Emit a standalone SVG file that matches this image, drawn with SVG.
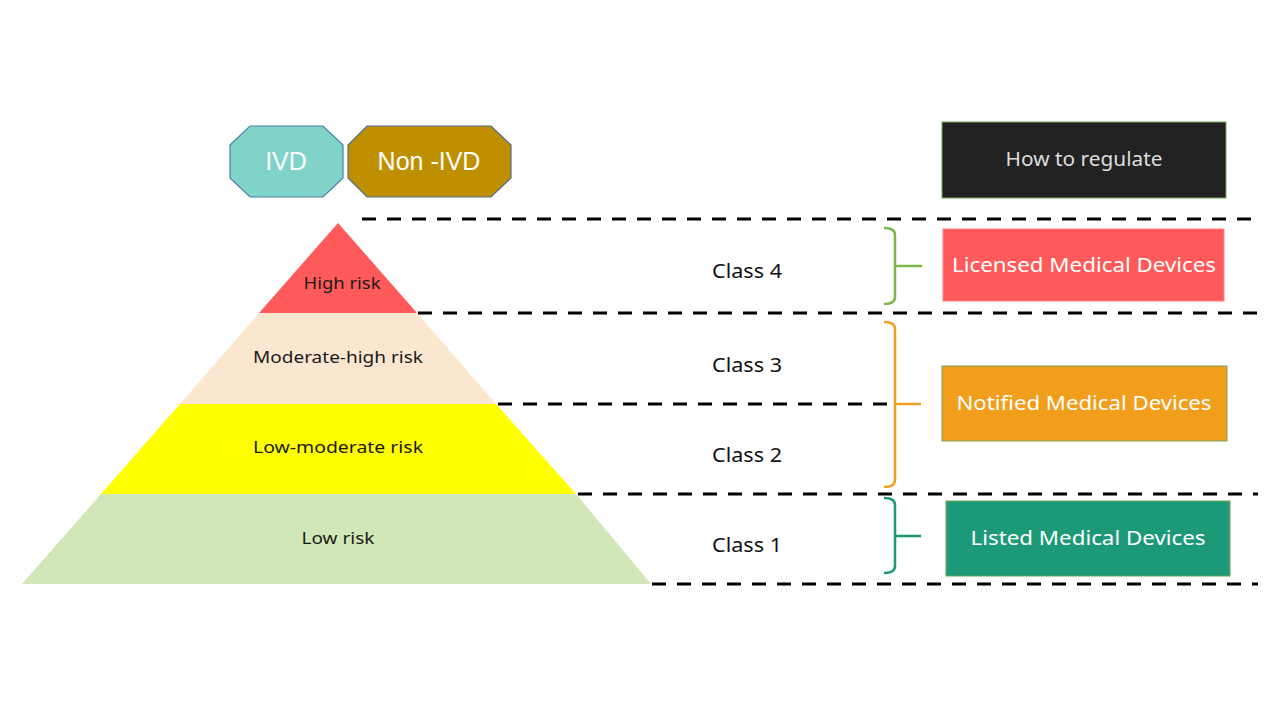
<svg xmlns="http://www.w3.org/2000/svg" width="1280" height="720" viewBox="0 0 1280 720">
<style>
.lbl{font-family:"Noto Sans","Open Sans","DejaVu Sans",sans-serif;font-size:17px;fill:#1a1a1a;text-anchor:middle;dominant-baseline:central}
.cls{font-family:"Noto Sans","Open Sans","DejaVu Sans",sans-serif;font-size:19px;fill:#111;text-anchor:middle;dominant-baseline:central}
.box{font-family:"Noto Sans","Open Sans","DejaVu Sans",sans-serif;font-size:20px;fill:#fff;text-anchor:middle;dominant-baseline:central}
.oct{font-family:"Liberation Sans",Arial,sans-serif;font-size:25px;fill:#fff;text-anchor:middle;dominant-baseline:central}
.dash{stroke:#000;stroke-width:3;stroke-dasharray:14 11;fill:none}
.br{fill:none;stroke-width:2.5;stroke-linejoin:round}
</style>
<rect width="1280" height="720" fill="#fff"/>
<g id="ivd">
<polygon points="250,126 323,126 343,145 343,178 323,197 250,197 230,178 230,145" fill="#7fd3c8" stroke="#4d7fa6" stroke-width="1.2"/>
<text class="oct" x="286" y="161">IVD</text>
</g>
<g id="non-ivd">
<polygon points="367,126 491,126 511,145 511,178 491,197 367,197 348,178 348,145" fill="#bf8f00" stroke="#4d6f94" stroke-width="1.2"/>
<text class="oct" x="429" y="161">Non -IVD</text>
</g>
<g id="how-to-regulate">
<rect x="942" y="122" width="284" height="76" fill="#222" stroke="#6aa84f" stroke-width="1"/>
<text class="box" x="1084" y="159" style="fill:#ddd;font-size:19px" textLength="157" lengthAdjust="spacingAndGlyphs">How to regulate</text>
</g>
<g id="high-risk">
<polygon points="338,223 417,313 259,313" fill="#ff5a5a"/>
<text class="lbl" x="342" y="282" textLength="77" lengthAdjust="spacingAndGlyphs">High risk</text>
</g>
<g id="moderate-high-risk">
<polygon points="259,313 417,313 496,404 180,404" fill="#fbe7d0"/>
<text class="lbl" x="338" y="356" textLength="170" lengthAdjust="spacingAndGlyphs">Moderate-high risk</text>
</g>
<g id="low-moderate-risk">
<polygon points="180,404 496,404 576,494 101,494" fill="#ffff00"/>
<text class="lbl" x="338" y="446" textLength="170" lengthAdjust="spacingAndGlyphs">Low-moderate risk</text>
</g>
<g id="low-risk">
<polygon points="101,494 576,494 651,584 22,584" fill="#d1e7b7"/>
<text class="lbl" x="338" y="537" textLength="73" lengthAdjust="spacingAndGlyphs">Low risk</text>
</g>
<g id="class-labels">
<text class="cls" x="747" y="271" textLength="70" lengthAdjust="spacingAndGlyphs">Class 4</text>
<text class="cls" x="747" y="365" textLength="70" lengthAdjust="spacingAndGlyphs">Class 3</text>
<text class="cls" x="747" y="455" textLength="70" lengthAdjust="spacingAndGlyphs">Class 2</text>
<text class="cls" x="747" y="545" textLength="70" lengthAdjust="spacingAndGlyphs">Class 1</text>
</g>
<g id="licensed">
<rect x="943" y="229" width="281" height="72" fill="#ff5a5a" stroke="#ff8080" stroke-width="1"/>
<text class="box" x="1084" y="264" textLength="264" lengthAdjust="spacingAndGlyphs">Licensed Medical Devices</text>
</g>
<g id="notified">
<rect x="942" y="366" width="285" height="75" fill="#f19e1c" stroke="#7aa060" stroke-width="1"/>
<text class="box" x="1084" y="402" textLength="255" lengthAdjust="spacingAndGlyphs">Notified Medical Devices</text>
</g>
<g id="listed">
<rect x="946" y="501" width="284" height="75" fill="#1c9a77" stroke="#6aa84f" stroke-width="1"/>
<text class="box" x="1088" y="537" textLength="235" lengthAdjust="spacingAndGlyphs">Listed Medical Devices</text>
</g>
<g id="connectors">
<line class="dash" x1="362" y1="219" x2="1258" y2="219"/>
<line class="dash" x1="418" y1="313" x2="1258" y2="313"/>
<line class="dash" x1="498" y1="404" x2="890" y2="404"/>
<line class="dash" x1="578" y1="494" x2="1258" y2="494"/>
<line class="dash" x1="652" y1="584" x2="1258" y2="584"/>
<path class="br" stroke="#7ab648" d="M884,228 Q895,228 895,235 L895,297 Q895,304 884,304 M895,266 L922,266"/>
<path class="br" stroke="#f0a020" d="M884,322 Q895,322 895,329 L895,480 Q895,487 884,487 M895,404 L921,404"/>
<path class="br" stroke="#1a9a78" d="M884,498 Q895,498 895,505 L895,566 Q895,573 884,573 M895,536 L921,536"/>
</g>
</svg>
